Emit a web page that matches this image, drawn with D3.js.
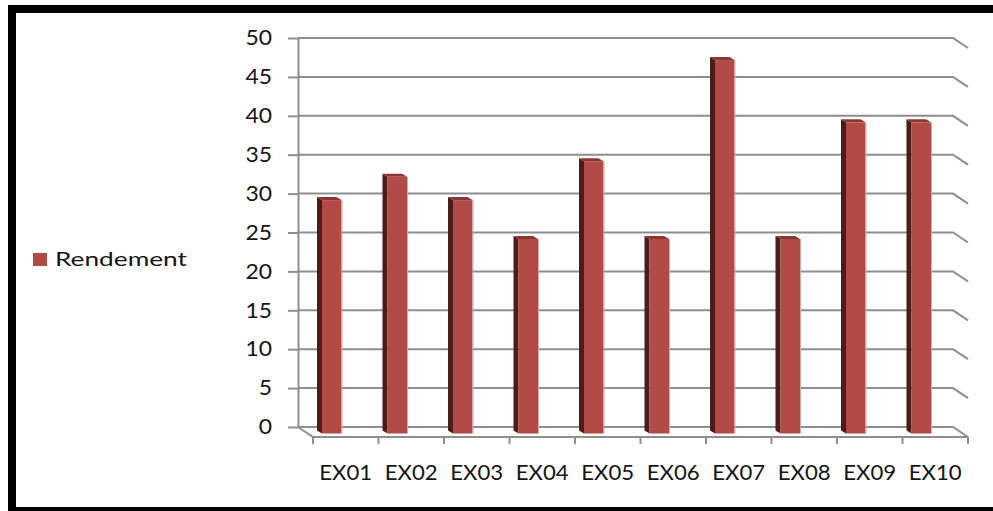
<!DOCTYPE html>
<html>
<head>
<meta charset="utf-8">
<script src="https://cdn.jsdelivr.net/npm/d3@7/dist/d3.min.js"></script>
<style>
  html, body { margin: 0; padding: 0; background: #fff; }
  svg { display: block; }
  text { font-family: Lato, "Open Sans", sans-serif; fill: #151515; }
</style>
</head>
<body>
<svg id="chart" width="993" height="511"></svg>
<script>
// Yield per experiment
const categories = ["EX01", "EX02", "EX03", "EX04", "EX05", "EX06", "EX07", "EX08", "EX09", "EX10"];
const rendement = [30, 33, 30, 25, 35, 25, 48, 25, 40, 40];
const yTicks = [0, 5, 10, 15, 20, 25, 30, 35, 40, 45, 50];
const seriesName = "Rendement";

const svg = d3.select("#chart");
const W = 993, H = 511;

// Back wall of the 3D plot and the depth offset toward the viewer
const wall = { left: 298, right: 953, top: 38, bottom: 427 };
const depth = { dx: 15, dy: 10 };
const gridColor = "#8e8e8e";

const x = d3.scaleBand().domain(categories).range([wall.left, wall.right]);
const xFront = d3.scaleBand().domain(categories).range([wall.left + depth.dx, wall.right + depth.dx]);
const y = d3.scaleLinear().domain([0, 50]).range([wall.bottom, wall.top]);

// Frame
const frame = svg.append("g").attr("fill", "#000");
frame.append("rect").attr("x", 8).attr("y", 5).attr("width", W - 8).attr("height", 8);
frame.append("rect").attr("x", 8).attr("y", 5).attr("width", 8).attr("height", H - 5);
frame.append("rect").attr("x", 8).attr("y", 507).attr("width", W - 8).attr("height", 4);

// Gridlines on the back wall, each folding toward the front at the right end
const grid = svg.append("g").attr("stroke", gridColor).attr("stroke-width", 2).attr("fill", "none");
grid.selectAll("path.grid").data(yTicks).join("path")
  .attr("class", "grid")
  .attr("d", d => `M${wall.left},${y(d)}H${wall.right}l${depth.dx},${depth.dy}`);

// Floor: left fold and front edge
grid.append("path")
  .attr("d", `M${wall.left},${y(0)}l${depth.dx},${depth.dy}H${wall.right + depth.dx}`);

// Category boundary ticks on the front edge
const bounds = categories.map(c => xFront(c)).concat([xFront.range()[1]]);
grid.selectAll("line.xtick").data(bounds).join("line")
  .attr("class", "xtick")
  .attr("x1", d => d).attr("x2", d => d)
  .attr("y1", y(0) + depth.dy).attr("y2", y(0) + depth.dy + 7);

// Value axis
const yAxis = svg.append("g")
  .attr("transform", `translate(${wall.left},0)`)
  .call(d3.axisLeft(y).tickValues(yTicks).tickSize(10).tickSizeOuter(0).tickPadding(16));
yAxis.select(".domain").attr("stroke", gridColor).attr("stroke-width", 2);
yAxis.selectAll(".tick line").attr("stroke", gridColor).attr("stroke-width", 2);
yAxis.selectAll(".tick text")
  .style("font-family", "Lato, sans-serif").attr("font-size", 21).attr("fill", "#111")
  .attr("textLength", d => String(d).length * 13.3)
  .attr("lengthAdjust", "spacingAndGlyphs");

// Category axis labels
const xAxis = svg.append("g")
  .attr("transform", `translate(0,${y(0) + depth.dy})`)
  .call(d3.axisBottom(xFront).tickSize(0).tickPadding(27));
xAxis.select(".domain").remove();
xAxis.selectAll(".tick text")
  .style("font-family", "Lato, sans-serif").attr("font-size", 22).attr("fill", "#111")
  .attr("textLength", 53)
  .attr("lengthAdjust", "spacingAndGlyphs");

// 3D columns
const barW = 19.5;
const side = { dx: 5, dy: 3 };
const front = { dx: 1, dy: 6.5 };
const colors = { front: "#b24b47", side: "#4a1c1a", top: "#8a3633", edge: "#dca8a5" };

const bars = svg.append("g").selectAll("g.bar")
  .data(categories.map((c, i) => ({ c, v: rendement[i] })))
  .join("g").attr("class", "bar");

bars.each(function (d) {
  const g = d3.select(this);
  const cx = x(d.c) + x.bandwidth() / 2 + front.dx;
  const x0 = cx - barW / 2, x1 = cx + barW / 2;
  const yt = y(d.v) + front.dy, yb = y(0) + front.dy;
  g.append("path").attr("fill", colors.side)
    .attr("d", `M${x0},${yt}L${x0 - side.dx},${yt - side.dy}L${x0 - side.dx},${yb - side.dy}L${x0},${yb}Z`);
  g.append("path").attr("fill", colors.top)
    .attr("d", `M${x0},${yt}L${x0 - side.dx},${yt - side.dy}L${x1 - side.dx},${yt - side.dy}L${x1},${yt}Z`);
  g.append("rect").attr("fill", colors.front)
    .attr("x", x0).attr("y", yt).attr("width", barW).attr("height", yb - yt);
  g.append("line").attr("stroke", colors.edge).attr("stroke-width", 1)
    .attr("x1", x1 + 0.5).attr("x2", x1 + 0.5).attr("y1", yt).attr("y2", yb);
});

// Legend
const legend = svg.append("g").attr("transform", "translate(33,253)");
legend.append("rect").attr("width", 14).attr("height", 13).attr("fill", colors.front);
legend.append("text").attr("x", 22).attr("y", 13)
  .attr("font-size", 20).attr("fill", "#111")
  .attr("textLength", 132).attr("lengthAdjust", "spacingAndGlyphs")
  .text(seriesName);
</script>
</body>
</html>
